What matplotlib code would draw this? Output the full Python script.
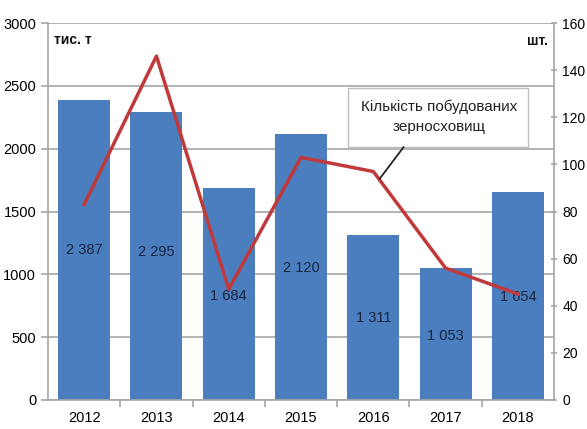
import matplotlib
matplotlib.use("Agg")
import matplotlib.pyplot as plt
from matplotlib.patches import Rectangle

years = ["2012", "2013", "2014", "2015", "2016", "2017", "2018"]
tonnes = [2387, 2295, 1684, 2120, 1311, 1053, 1654]
granaries = [83, 146, 47, 103, 97, 56, 45]
bar_labels = ["2 387", "2 295", "1 684", "2 120", "1 311", "1 053", "1 654"]
left_ticks = [0, 500, 1000, 1500, 2000, 2500, 3000]
right_ticks = [0, 20, 40, 60, 80, 100, 120, 140, 160]

plt.rcParams["font.family"] = ["Liberation Sans", "DejaVu Sans"]

fig = plt.figure(figsize=(5.87, 4.29), dpi=100)
ax = fig.add_axes([0.0818, 0.0676, 0.8620, 0.8785])
ax2 = ax.twinx()

x = list(range(len(years)))
ax.bar(x, tonnes, width=0.72, color="#4a7ebf", zorder=2)
ax.set_ylim(0, 3000)
ax.set_xlim(-0.5, len(years) - 0.5)
ax.set_yticks(left_ticks)
ax.yaxis.grid(True, color="#a6a6a6", linewidth=1.2, zorder=0)
ax.set_axisbelow(True)
ax.set_xticks(x)
ax.set_xticklabels(years)
ax.set_xticks([i + 0.5 for i in x[:-1]], minor=True)
ax.tick_params(axis="x", which="major", length=0, labelsize=10.5, pad=8)
ax.tick_params(axis="x", which="minor", length=5, color="#a6a6a6", width=1.2)
ax.tick_params(axis="y", length=5, color="#a6a6a6", width=1.2, labelsize=10.5)
for s in ["top", "right"]:
    ax.spines[s].set_visible(False)
for s in ["left", "bottom"]:
    ax.spines[s].set_color("#a6a6a6")
    ax.spines[s].set_linewidth(1.2)

# value labels inside the bars
label_y = [1194, 1178, 828, 1050, 652, 509, 820]
for xi, ly, txt in zip(x, label_y, bar_labels):
    ax.text(xi, ly, txt, ha="center", va="center", fontsize=10.5, color="#1a2540", zorder=5)

ax2.plot(x, granaries, color="#c0393b", linewidth=2.5, zorder=4)
ax2.set_ylim(0, 160)
ax2.set_yticks(right_ticks)
ax2.tick_params(axis="y", length=4, direction="inout", color="#a6a6a6", width=1.2,
                labelsize=10, pad=4)
for s in ["top", "left", "bottom"]:
    ax2.spines[s].set_visible(False)
ax2.spines["right"].set_color("#a6a6a6")
ax2.spines["right"].set_linewidth(1.2)

ax.text(0.012, 0.975, "тис. т", transform=ax.transAxes, ha="left", va="top",
        fontsize=10, fontweight="bold", color="#111111")
ax.text(0.988, 0.97, "шт.", transform=ax.transAxes, ha="right", va="top",
        fontsize=10, fontweight="bold", color="#111111")

# series callout: box, text and leader line
box = Rectangle((0.593, 0.672), 0.356, 0.157, transform=ax.transAxes,
                fc="white", ec="#bfbfbf", lw=1, zorder=6)
ax2.add_patch(box)
ax2.text(4.91, 120.3, "Кількість побудованих\nзерносховищ", ha="center", va="center",
         fontsize=11, color="#222222", linespacing=1.6, zorder=7)
ax2.annotate("", xy=(4.09, 94.0), xytext=(4.42, 107.4),
             arrowprops=dict(arrowstyle="-", color="#222222", lw=1.3,
                             shrinkA=0, shrinkB=0),
             zorder=7)

fig.savefig("out.png", dpi=100)
